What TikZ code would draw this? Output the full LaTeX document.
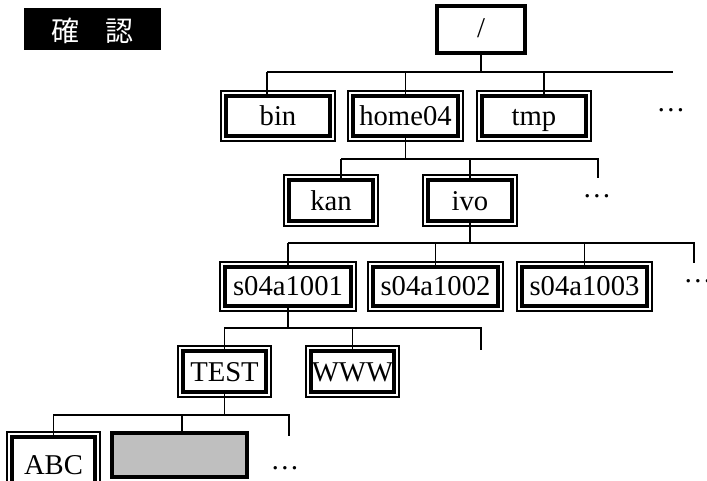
\documentclass[tikz,border=0pt]{standalone}
\usepackage{fontspec}
\setmainfont{Liberation Serif}
\newfontfamily\cjk{Noto Sans CJK JP}
\usetikzlibrary{fit}
\definecolor{boxgray}{gray}{0.75}
\newcommand\dbox[6]{%
  \node[obox, fit={(#2,#3) (#4,#5)}] (#1-o) {};
  \node[ibox, fit={(#2+5,#3+5) (#4-5,#5-5)}] (#1) {};
  \node[lbl] (#1-t) at ([shift={(0,-11)}]#1.south) {#6};
}
\begin{document}
\begin{tikzpicture}[x=0.75pt,y=-0.75pt,
  conn/.style={line width=1.2pt},
  obox/.style={draw, line width=1.2pt, inner sep=0pt, outer sep=0pt},
  ibox/.style={draw, line width=2.6pt, inner sep=0pt, outer sep=0pt},
  rootbox/.style={draw, line width=3.6pt, inner sep=0pt, outer sep=0pt},
  graybox/.style={draw, fill=boxgray, line width=3pt, inner sep=0pt, outer sep=0pt},
  lbl/.style={anchor=base, inner sep=0pt, font=\fontsize{21.5}{25}\selectfont},
  dotsl/.style={inner sep=0pt, font=\fontsize{21.5}{25}\selectfont},
  titlebox/.style={fill=black, inner sep=0pt, outer sep=0pt},
  titletext/.style={text=white, inner sep=0pt, font=\cjk\fontsize{21}{24}\selectfont},
]
\useasboundingbox (0,0) rectangle (707,480);

% title
\node[titlebox, fit={(24,8) (161,50)}] (title) {};
\node[titletext] (title-t) at ([shift={(0,2)}]title.center) {確\hspace{20pt}認};

% root
\node[rootbox, fit={(437,6) (525,53)}] (root) {};
\node[lbl] (root-t) at ([shift={(0,-16)}]root.south) {/};

% level 1
\dbox{bin}{221}{91}{335}{141}{bin}
\dbox{home}{348}{91}{463}{141}{home04}
\dbox{tmp}{477}{91}{591}{141}{tmp}
\node[dotsl] (dots1) at (671,110) {…};

% level 2
\dbox{kan}{284}{175}{378}{226}{kan}
\dbox{ivo}{423}{175}{517}{226}{ivo}
\node[dotsl] (dots2) at (597,196) {…};

% level 3
\dbox{sa}{220}{262}{356}{311}{s04a1001}
\dbox{sb}{368}{262}{503}{311}{s04a1002}
\dbox{sc}{517}{262}{652}{311}{s04a1003}
\node[dotsl] (dots3) at (698,281) {…};

% level 4
\dbox{test}{178}{346}{271}{397}{TEST}
\dbox{www}{306}{346}{399}{397}{WWW}

% level 5
\dbox{abc}{7}{432}{100}{490}{ABC}
\node[graybox, fit={(112,433) (247,477)}] (blank) {};
\node[dotsl] (dots5) at (285,468) {…};

% connectors level 0
\coordinate (h0L) at (267,72);
\coordinate (h0R) at (673,72);
\coordinate (h0c) at (544,72);
\draw[conn] (h0L) -- (h0R);
\draw[conn] (root.south) -- (root.south |- h0L);
\draw[conn] (h0L) -- (h0L |- bin.north);
\draw[conn] (home.north |- h0L) -- (home.north);
\draw[conn] (h0c) -- (h0c |- tmp.north);

% connectors level 1
\coordinate (h1L) at (341,159);
\coordinate (h1R) at (598,159);
\coordinate (e1) at (598,178);
\draw[conn] (h1L) -- (h1R) -- (e1);
\draw[conn] (home.south) -- (home.south |- h1L);
\draw[conn] (h1L) -- (h1L |- kan.north);
\draw[conn] (ivo.north |- h1L) -- (ivo.north);

% connectors level 2
\coordinate (h2L) at (288,243);
\coordinate (h2R) at (694,243);
\coordinate (e2) at (694,263);
\draw[conn] (h2L) -- (h2R) -- (e2);
\draw[conn] (ivo.south) -- (ivo.south |- h2L);
\draw[conn] (sa.north |- h2L) -- (sa.north);
\draw[conn] (sb.north |- h2L) -- (sb.north);
\draw[conn] (sc.north |- h2L) -- (sc.north);

% connectors level 3
\coordinate (h3L) at (224,328);
\coordinate (h3R) at (481,328);
\coordinate (e3) at (481,350);
\draw[conn] (h3L) -- (h3R) -- (e3);
\draw[conn] (sa.south) -- (sa.south |- h3L);
\draw[conn] (test.north |- h3L) -- (test.north);
\draw[conn] (www.north |- h3L) -- (www.north);

% connectors level 4
\coordinate (h4L) at (53,415);
\coordinate (h4R) at (289,415);
\coordinate (h4c) at (182,415);
\coordinate (e4) at (289,436);
\draw[conn] (h4L) -- (h4R) -- (e4);
\draw[conn] (test.south) -- (test.south |- h4L);
\draw[conn] (abc.north |- h4L) -- (abc.north);
\draw[conn] (h4c) -- (h4c |- blank.north);
\end{tikzpicture}
\end{document}
